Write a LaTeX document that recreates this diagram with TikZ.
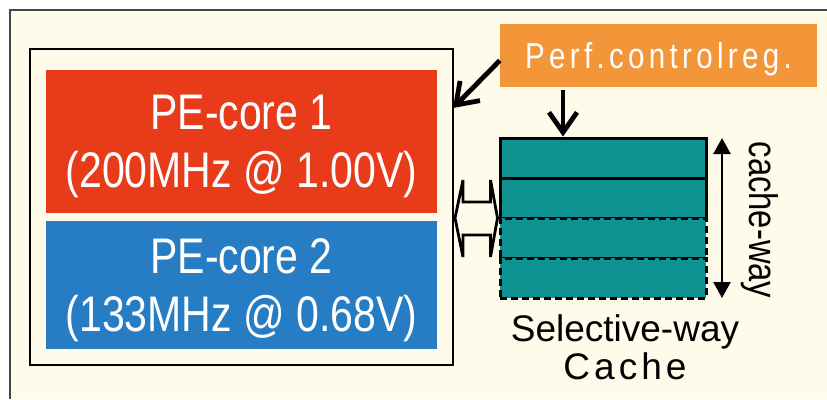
\documentclass[tikz,border=0pt]{standalone}
\usepackage{fontspec}
\setmainfont{Liberation Sans}
\newfontfamily\narrowfont[FakeStretch=0.82]{Liberation Sans}
\newfontfamily\perffont[FakeStretch=0.82, LetterSpace=12]{Liberation Sans}
\newfontfamily\spacedfont[LetterSpace=11]{Liberation Sans}
\usetikzlibrary{arrows.meta}
\definecolor{cream}{RGB}{255,251,234}
\definecolor{corered}{RGB}{231,59,26}
\definecolor{coreblue}{RGB}{39,125,196}
\definecolor{regorange}{RGB}{243,150,57}
\definecolor{wayteal}{RGB}{14,146,145}
\definecolor{framegray}{RGB}{70,70,70}

\begin{document}
\begin{tikzpicture}[x=1pt, y=-1pt]
        \tikzstyle{core} = [minimum width=391pt, inner sep=0pt, text=white, align=center, text depth=0pt, font=\narrowfont\fontsize{50}{58}\selectfont]
        \tikzstyle{way} = [draw, fill=wayteal, line width=3pt, minimum width=206pt, minimum height=40pt, inner sep=0pt]
        \tikzstyle{bigarrow} = [-{Straight Barb[length=20pt, width=28pt]}, line width=4.8pt]
        \useasboundingbox (0,0) rectangle (827,399);
        % sheet
        \fill[cream] (10,10) rectangle (827,399);
        \draw[framegray, line width=1.3pt] (10,399) -- (10,10) -- (827,10);
        % cores
        \node[draw, line width=1.2pt, minimum width=423pt, minimum height=316pt, inner sep=0pt] (chip) at (241.5,207) {};
        \node[core, fill=corered, minimum height=143pt] (pe1) at (241.5,141.5) {PE-core 1\\(200MHz @ 1.00V)};
        \node[core, fill=coreblue, minimum height=128pt] (pe2) at (241.5,285) {PE-core 2\\(133MHz @ 0.68V)};
        % register and cache
        \node[fill=regorange, minimum width=317pt, minimum height=63pt, inner sep=0pt, text=white, text depth=0pt, font=\perffont\fontsize{36}{40}\selectfont] (perf) at (658.5,55.5) {Perf.controlreg.};
        \node[way] (w1) at (603,158) {};
        \node[way] (w2) at (603,198) {};
        \node[way, dash pattern=on 7pt off 4pt] (w3) at (603,238) {};
        \node[way, dash pattern=on 7pt off 4pt] (w4) at (603,278) {};
        \node[align=center, text depth=0pt, font=\fontsize{37}{38}\selectfont] (cachelbl) at (625,347.5) {Selective-way\\{\spacedfont Cache}};
        \node[rotate=-90, font=\narrowfont\fontsize{40}{44}\selectfont] (waylbl) at (759.5,220) {cache-way};
        \coordinate (chipin) at (453,108);
        \coordinate (regout) at (563,90);
        \coordinate (waytop) at (722,138);
        \coordinate (waybot) at (722,298);
        \draw[bigarrow] ([yshift=-5pt]perf.west) -- (chipin);
        \draw[bigarrow] (regout) -- (regout |- w1.north);
        \draw[{Triangle[length=16pt, width=17pt]}-{Triangle[length=16pt, width=17pt]}, line width=2.4pt] (waytop) -- (waybot);
        % bus between cores and cache
        \draw[line width=2.8pt, fill=cream, line join=miter, miter limit=4] (455,218) -- (463,180) -- (463,202) -- (490.5,202) -- (490.5,180) -- (497.5,218) -- (490.5,257) -- (490.5,235) -- (463,235) -- (463,257) -- cycle;
      \end{tikzpicture}
\end{document}
